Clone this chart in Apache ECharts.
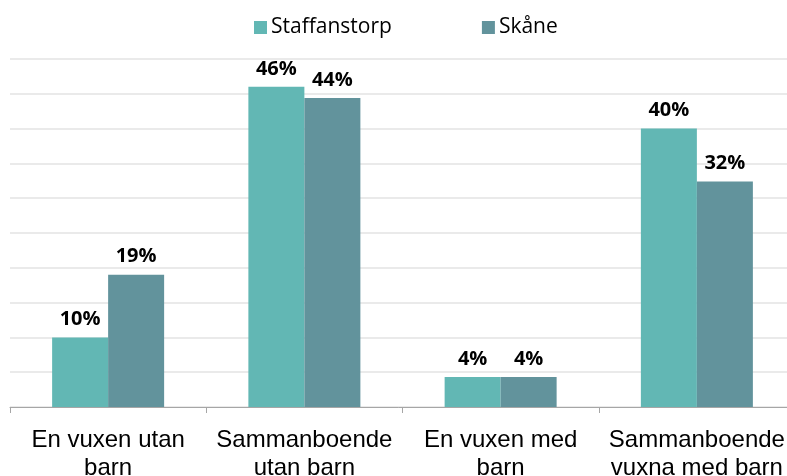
<!DOCTYPE html>
<html><head><meta charset="utf-8">
<script src="https://cdn.jsdelivr.net/npm/echarts@6/dist/echarts.min.js"></script>
<style>html,body{margin:0;padding:0;background:#fff}#c{width:787px;height:476px}</style>
</head><body><div id="c"></div>
<script>
const categories = ['En vuxen utan\nbarn', 'Sammanboende\nutan barn', 'En vuxen med\nbarn', 'Sammanboende\nvuxna med barn'];
const staffanstorp = [10, 46, 4.3, 40];
const skane = [19, 44.4, 4.3, 32.4];
const seriesNames = ['Staffanstorp', 'Skåne'];
const colors = ['#62b7b4', '#62939c'];

const chart = echarts.init(document.getElementById('c'), null, {renderer: 'canvas'});
const labelCfg = {
  show: true, position: 'top', distance: 8,
  fontFamily: 'Open Sans', fontWeight: 'bold', fontSize: 20, color: '#000',
  formatter: p => Math.round(p.value) + '%'
};
chart.setOption({
  animation: false,
  legend: {
    top: 12, left: 249, itemWidth: 13, itemHeight: 13, itemGap: 90,
    icon: 'rect',
    textStyle: {fontFamily: 'Open Sans', fontSize: 21, color: '#000', padding: [0,0,0,-1]},
    data: seriesNames
  },
  grid: {left: 10, top: 59, width: 785, height: 348, containLabel: false, outerBoundsMode: 'none'},
  xAxis: {
    type: 'category', data: categories,
    axisLine: {lineStyle: {color: '#a6a6a6', width: 1}},
    axisTick: {show: true, length: 6, lineStyle: {color: '#a6a6a6'}},
    axisLabel: {fontFamily: 'Liberation Sans', fontSize: 24, color: '#000', lineHeight: 28, margin: 19, interval: 0}
  },
  yAxis: {
    type: 'value', min: 0, max: 50, interval: 5,
    axisLabel: {show: false}, axisLine: {show: false}, axisTick: {show: false},
    splitLine: {lineStyle: {color: '#e3e3e3', width: 1.5}}
  },
  series: [
    {name: seriesNames[0], type: 'bar', data: staffanstorp, barWidth: 56, barGap: '0%', itemStyle: {color: colors[0]}, label: labelCfg},
    {name: seriesNames[1], type: 'bar', data: skane, barWidth: 56, itemStyle: {color: colors[1]}, label: labelCfg}
  ]
});
</script></body></html>
